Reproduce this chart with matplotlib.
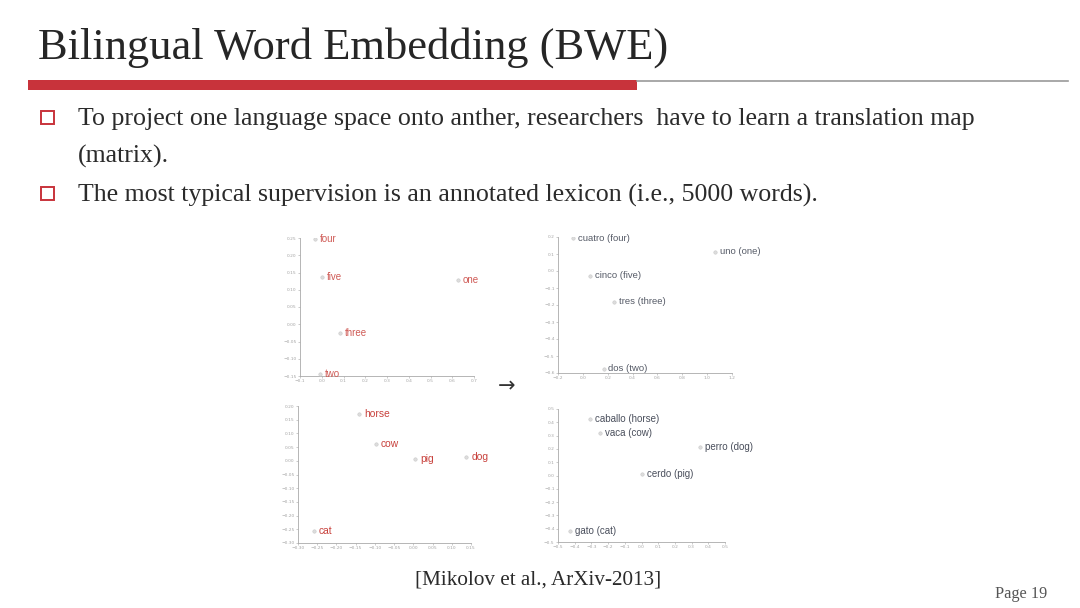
import matplotlib
matplotlib.use('Agg')
import matplotlib.pyplot as plt
from matplotlib.patches import Rectangle

# --- data ---
en_nums = ['four', 'five', 'one', 'three', 'two']
en_nums_x = [-0.032, 0.0, 0.627, 0.082, -0.01]
en_nums_y = [0.247, 0.137, 0.128, -0.026, -0.144]

es_nums = ['cuatro (four)', 'uno (one)', 'cinco (five)', 'tres (three)', 'dos (two)']
es_nums_x = [-0.078, 1.065, 0.061, 0.249, 0.167]
es_nums_y = [0.194, 0.112, -0.029, -0.182, -0.576]

en_animals = ['horse', 'cow', 'pig', 'dog', 'cat']
en_animals_x = [-0.141, -0.097, 0.005, 0.138, -0.259]
en_animals_y = [0.170, 0.063, 0.007, 0.015, -0.256]

es_animals = ['caballo (horse)', 'vaca (cow)', 'perro (dog)', 'cerdo (pig)', 'gato (cat)']
es_animals_x = [-0.308, -0.249, 0.350, 0.003, -0.428]
es_animals_y = [0.424, 0.317, 0.218, 0.011, -0.416]

W, H = 1080, 608
fig = plt.figure(figsize=(W / 100, H / 100), dpi=100)
fig.patch.set_facecolor('white')

SERIF = ['Liberation Serif', 'DejaVu Serif']
RED = '#c8333b'


def px_axes(left, top, right, bottom):
    return fig.add_axes([left / W, 1 - bottom / H, (right - left) / W, (bottom - top) / H])


def small_panel(ax, xs, ys, labels, xlim, ylim, xstep, ystep, color, fs=7):
    ax.scatter(xs, ys, s=6, color='#dddddd', edgecolors='#c8c8c8', linewidths=0.4, zorder=3)
    for x, y, t in zip(xs, ys, labels):
        ax.annotate(t, (x, y), xytext=(3.5, 0), textcoords='offset points',
                    fontsize=fs, color=color, va='center', ha='left',
                    family=['Liberation Sans', 'DejaVu Sans'], annotation_clip=False)
    ax.set_xlim(*xlim)
    ax.set_ylim(*ylim)
    nx = int(round((xlim[1] - xlim[0]) / xstep))
    ny = int(round((ylim[1] - ylim[0]) / ystep))
    ax.set_xticks([round(xlim[0] + i * xstep, 3) for i in range(nx + 1)])
    ax.set_yticks([round(ylim[0] + i * ystep, 3) for i in range(ny + 1)])
    ax.tick_params(labelsize=3.2, colors='#a5a5a5', length=1.5, width=0.4, pad=1)
    for s in ['top', 'right']:
        ax.spines[s].set_visible(False)
    for s in ['left', 'bottom']:
        ax.spines[s].set_color('#aaaaaa')
        ax.spines[s].set_linewidth(0.6)
    ax.set_facecolor('none')


ax1 = px_axes(300, 238, 474, 376)
small_panel(ax1, en_nums_x, en_nums_y, en_nums, (-0.1, 0.7), (-0.15, 0.25), 0.1, 0.05, '#cf5a55', fs=7)

ax2 = px_axes(558, 237, 732, 373)
small_panel(ax2, es_nums_x, es_nums_y, es_nums, (-0.2, 1.2), (-0.6, 0.2), 0.2, 0.1, '#555a66', fs=6.8)

ax3 = px_axes(298, 406, 471, 543)
small_panel(ax3, en_animals_x, en_animals_y, en_animals, (-0.3, 0.15), (-0.3, 0.2), 0.05, 0.05, '#c8413c', fs=7.4)

ax4 = px_axes(558, 409, 725, 542)
small_panel(ax4, es_animals_x, es_animals_y, es_animals, (-0.5, 0.5), (-0.5, 0.5), 0.1, 0.1, '#4a4f5c', fs=7)

# --- slide decoration ---
fig.text(38 / W, 1 - 48 / H, 'Bilingual Word Embedding (BWE)', fontsize=32, family=SERIF,
         color='#262626', va='center', ha='left')
fig.patches.append(Rectangle((28 / W, 1 - 90 / H), (637 - 28) / W, 10 / H,
                             transform=fig.transFigure, facecolor=RED, edgecolor='none'))
fig.lines.append(plt.Line2D([637 / W, 1068 / W], [1 - 81 / H, 1 - 81 / H],
                            transform=fig.transFigure, color='#9a9a9a', linewidth=1.2))

# bullet squares
for yb in [117, 193]:
    fig.patches.append(Rectangle((41 / W, 1 - (yb + 7) / H), 13 / W, 13 / H,
                                 transform=fig.transFigure, facecolor='none',
                                 edgecolor=RED, linewidth=1.4))

body_lines = ['To project one language space onto anther, researchers  have to learn a translation map',
              '(matrix).',
              'The most typical supervision is an annotated lexicon (i.e., 5000 words).']
body_y = [119, 156, 195]
for yl, line in zip(body_y, body_lines):
    fig.text(78 / W, 1 - yl / H, line, fontsize=18.6, family=SERIF, color='#2b2b2b',
             va='center', ha='left')

fig.text(507 / W, 1 - 386 / H, '\u2192', fontsize=15, color='#333333', ha='center', va='center',
         family=['DejaVu Sans'])
fig.text(538 / W, 1 - 580 / H, '[Mikolov et al., ArXiv-2013]', fontsize=15.2, family=SERIF,
         color='#2b2b2b', ha='center', va='center')
fig.text(1047 / W, 1 - 594 / H, 'Page 19', fontsize=11.7, family=SERIF, color='#555555',
         ha='right', va='center')

fig.savefig('out.png', dpi=100, facecolor='white')
